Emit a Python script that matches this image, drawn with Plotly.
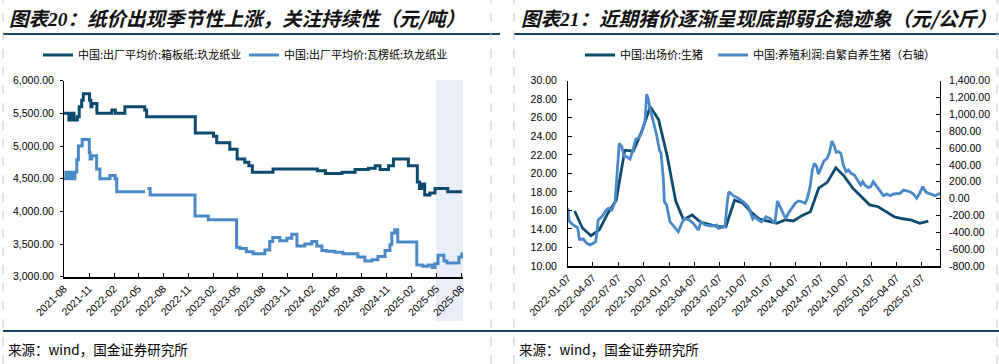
import plotly.graph_objects as go
import pandas as pd

# ---------------- Left chart data (元/吨) ----------------
box_dates = ["2021-08-01", "2021-08-19", "2021-08-29", "2021-09-07", "2021-09-19", "2021-09-26",
             "2021-10-05", "2021-10-11", "2021-11-03", "2021-11-08", "2021-11-12", "2021-11-30",
             "2022-01-24", "2022-02-06", "2022-03-13", "2022-05-25", "2022-06-01", "2022-11-27",
             "2023-02-02", "2023-02-14", "2023-04-03", "2023-04-30", "2023-05-28", "2023-06-12",
             "2023-06-25", "2023-09-09", "2024-02-19", "2024-03-20", "2024-05-20", "2024-07-07",
             "2024-08-25", "2024-09-19", "2024-10-07", "2024-11-07", "2024-11-25", "2025-01-19",
             "2025-02-21", "2025-03-01", "2025-03-10", "2025-03-20", "2025-04-08", "2025-04-27",
             "2025-06-13", "2025-08-04"]
box_price = [5500, 5400, 5500, 5400, 5450, 5600,
             5700, 5800, 5700, 5600, 5650, 5500,
             5550, 5500, 5600, 5550, 5450, 5200,
             5150, 5050, 4950, 4800, 4750, 4700,
             4600, 4650, 4620, 4580, 4600, 4640,
             4660, 4700, 4640, 4700, 4800, 4700,
             4450, 4350, 4420, 4250, 4280, 4350,
             4300, 4300]

corr_dates = ["2021-08-01", "2021-08-08", "2021-08-17", "2021-08-25", "2021-09-03", "2021-09-10",
              "2021-09-17", "2021-09-23", "2021-10-07", "2021-11-02", "2021-11-05", "2021-11-11",
              "2021-11-29", "2021-12-11", "2022-01-17", "2022-02-05", "2022-02-11", "2022-05-26",
              "2022-05-28",
              "2022-06-04", "2022-06-14", "2022-11-26", "2023-01-14", "2023-04-28", "2023-05-10",
              "2023-06-03", "2023-06-28", "2023-08-10", "2023-08-28", "2023-09-08", "2023-10-04",
              "2023-10-30", "2023-11-17", "2023-12-06", "2024-01-04", "2024-01-30", "2024-02-17",
              "2024-03-07", "2024-03-25", "2024-04-24", "2024-05-23", "2024-07-17", "2024-08-12",
              "2024-09-07", "2024-09-29", "2024-10-25", "2024-11-12", "2024-11-19", "2024-11-30",
              "2024-12-11", "2025-02-16", "2025-02-19", "2025-03-13", "2025-04-01", "2025-04-16",
              "2025-04-27", "2025-05-08", "2025-05-22", "2025-05-30", "2025-06-10", "2025-07-17",
              "2025-07-24", "2025-08-04"]
corr_price = [4500, 4600, 4500, 4600, 4500, 4600,
              4790, 5000, 5100, 4900, 4800, 4850,
              4650, 4500, 4550, 4500, 4300, 4300,
              None,
              4350, 4250, 3930, 3870, 3450, 3430,
              3380, 3350, 3410, 3540, 3600, 3550,
              3590, 3650, 3470, 3500, 3540, 3470,
              3400, 3390, 3375, 3350, 3300, 3240,
              3260, 3310, 3400, 3490, 3670, 3720,
              3530, 3530, 3180, 3160, 3180, 3140,
              3200, 3330, 3330, 3240, 3210, 3210,
              3300, 3370]

left_xtick_vals = ["2021-08-01", "2021-11-01", "2022-02-01", "2022-05-01", "2022-08-01", "2022-11-01",
                   "2023-02-01", "2023-05-01", "2023-08-01", "2023-11-01", "2024-02-01", "2024-05-01",
                   "2024-08-01", "2024-11-01", "2025-02-01", "2025-05-01", "2025-08-01"]
left_xtick_text = ["2021-08", "2021-11", "2022-02", "2022-05", "2022-08", "2022-11",
                   "2023-02", "2023-05", "2023-08", "2023-11", "2024-02", "2024-05",
                   "2024-08", "2024-11", "2025-02", "2025-05", "2025-08"]
left_ytick_vals = [3000, 3500, 4000, 4500, 5000, 5500, 6000]
left_ytick_text = ["3,000.00", "3,500.00", "4,000.00", "4,500.00", "5,000.00", "5,500.00", "6,000.00"]

# ---------------- Right chart data ----------------
hog_price_dates = pd.date_range("2022-01-31", periods=43, freq="ME")
hog_price = [15.94, 14.1, 13.27, 13.9, 15.7, 17.1, 22.5, 22.4, 24.5, 27.2, 25.8, 21.9,
             17.0, 15.0, 15.5, 14.75, 14.5, 14.25, 14.24, 17.1, 16.8, 15.8, 15.05, 14.79,
             14.6, 14.97, 14.86, 15.43, 15.86, 18.4, 19.03, 20.6, 19.7, 18.4, 17.5, 16.6,
             16.4, 15.9, 15.3, 15.1, 14.95, 14.6, 14.85]

profit_dates = ["2022-01-07", "2022-01-11", "2022-01-26", "2022-02-11", "2022-02-17", "2022-03-03",
                "2022-03-16", "2022-03-27", "2022-04-08", "2022-04-17", "2022-04-21", "2022-04-26",
                "2022-05-09", "2022-05-21", "2022-06-02", "2022-06-14", "2022-06-26", "2022-07-04",
                "2022-07-11", "2022-07-20", "2022-07-29", "2022-08-07", "2022-08-19", "2022-08-31",
                "2022-09-08", "2022-09-18", "2022-09-30", "2022-10-12", "2022-10-18", "2022-10-24",
                "2022-10-30", "2022-11-11", "2022-11-23", "2022-12-03", "2022-12-09", "2022-12-17",
                "2022-12-21", "2022-12-29", "2023-01-10", "2023-01-28", "2023-02-09", "2023-02-22",
                "2023-03-03", "2023-03-20", "2023-04-04", "2023-04-23", "2023-05-02", "2023-05-17",
                "2023-06-10", "2023-06-28", "2023-07-04", "2023-07-28", "2023-08-05", "2023-08-11",
                "2023-08-27", "2023-09-14", "2023-10-02", "2023-10-20", "2023-11-01", "2023-11-05",
                "2023-11-13", "2023-11-25", "2023-12-07", "2023-12-23", "2024-01-06", "2024-01-16",
                "2024-01-24", "2024-02-02", "2024-02-14", "2024-02-23", "2024-03-03", "2024-03-12",
                "2024-03-25", "2024-04-06", "2024-04-18", "2024-04-30", "2024-05-12", "2024-05-20",
                "2024-05-30", "2024-06-07", "2024-06-14", "2024-06-23", "2024-06-29", "2024-07-09",
                "2024-07-19", "2024-07-31", "2024-08-08", "2024-08-17", "2024-08-24", "2024-09-01",
                "2024-09-09", "2024-09-18", "2024-09-27", "2024-10-07", "2024-10-15", "2024-10-25",
                "2024-11-06", "2024-11-17", "2024-11-29", "2024-12-06", "2024-12-14", "2024-12-26",
                "2025-01-04", "2025-01-13", "2025-01-26", "2025-02-07", "2025-02-19", "2025-03-03",
                "2025-03-15", "2025-03-27", "2025-04-08", "2025-04-20", "2025-05-02", "2025-05-14",
                "2025-05-26", "2025-06-07", "2025-06-19", "2025-06-28", "2025-07-11", "2025-07-23",
                "2025-08-06", "2025-08-24", "2025-09-11"]
profit = [-115, -266, -313, -345, -483, -480,
          -531, -551, -531, -511, -412, -254,
          -215, -155, -115, -135, -37, 320,
          657, 617, 498, 498, 470, 597,
          704, 716, 795, 913, 1240, 1183,
          1072, 913, 755, 577, 538, 241,
          -37, -76, -274, -345, -393, -293,
          -234, -254, -293, -373, -274, -313,
          -325, -313, -353, -333, -37, 82,
          35, 4, -37, -96, -215, -242,
          -215, -254, -274, -215, -234, -274,
          -293, -28, -115, -175, -242, -175,
          -115, -56, -28, -37, -56, 4,
          142, 340, 419, 379, 289, 379,
          447, 479, 550, 684, 637, 550,
          558, 538, 399, 320, 340, 301,
          281, 221, 162, 201, 162, 130,
          142, 201, 142, 91, 35, 55,
          35, 55, 63, 63, 102, 91,
          82, 55, 4, 55, 142, 75,
          55, 35, 63]

right_xtick_vals = ["2022-01-07", "2022-04-07", "2022-07-07", "2022-10-07", "2023-01-07", "2023-04-07",
                    "2023-07-07", "2023-10-07", "2024-01-07", "2024-04-07", "2024-07-07", "2024-10-07",
                    "2025-01-07", "2025-04-07", "2025-07-07"]
right_ytick_vals = [10, 12, 14, 16, 18, 20, 22, 24, 26, 28, 30]
right_ytick_text = ["10.00", "12.00", "14.00", "16.00", "18.00", "20.00", "22.00", "24.00", "26.00", "28.00", "30.00"]
right_y2tick_vals = [-800, -600, -400, -200, 0, 200, 400, 600, 800, 1000, 1200, 1400]
right_y2tick_text = ["-800.00", "-600.00", "-400.00", "-200.00", "0.00", "200.00", "400.00",
                     "600.00", "800.00", "1,000.00", "1,200.00", "1,400.00"]

# ---------------- styling ----------------
W, H = 999, 364
DARK = "#0C4A6E"
LIGHT = "#4A89C8"
NAVY = "#1A4263"
CJK = "Noto Sans CJK SC"
NUM = "Liberation Sans"


def px(x):
    return x / W


def py(y):
    return 1 - y / H


fig = go.Figure()
fig.add_trace(go.Scatter(x=box_dates, y=box_price, mode="lines", line=dict(color=DARK, width=3, shape="hv"),
                         name="中国:出厂平均价:箱板纸:玖龙纸业", xaxis="x", yaxis="y", legend="legend",
                         connectgaps=False))
fig.add_trace(go.Scatter(x=corr_dates, y=corr_price, mode="lines", line=dict(color=LIGHT, width=3, shape="hv"),
                         name="中国:出厂平均价:瓦楞纸:玖龙纸业", xaxis="x", yaxis="y", legend="legend2",
                         connectgaps=False))
fig.add_trace(go.Scatter(x=hog_price_dates, y=hog_price, mode="lines", line=dict(color=DARK, width=2.8),
                         name="中国:出场价:生猪", xaxis="x2", yaxis="y2", legend="legend3"))
fig.add_trace(go.Scatter(x=profit_dates, y=profit, mode="lines", line=dict(color=LIGHT, width=2.8),
                         name="中国:养殖利润:自繁自养生猪（右轴）", xaxis="x2", yaxis="y3", legend="legend4"))

tickfont = dict(family=NUM, size=10.5, color="#000000")
legfont = dict(family=CJK, size=11, color="#000000")


def leg(x, y):
    return dict(x=px(x), y=py(y), xanchor="left", yanchor="middle", orientation="h",
                font=legfont, bgcolor="rgba(0,0,0,0)", borderwidth=0)


fig.update_layout(
    width=W, height=H, margin=dict(l=0, r=0, t=0, b=0, autoexpand=False),
    paper_bgcolor="white", plot_bgcolor="white",
    showlegend=True,
    legend=leg(38, 55), legend2=leg(244, 55), legend3=leg(580, 55), legend4=leg(713, 55),
    xaxis=dict(domain=[px(64), px(463)], anchor="y", type="date", range=["2021-08-01", "2025-08-08"],
               tickvals=left_xtick_vals, ticktext=left_xtick_text, tickangle=-45, tickfont=tickfont,
               ticks="inside", ticklen=4, tickcolor="#000", showline=True, linecolor="#000", linewidth=1.5,
               showgrid=False, zeroline=False, automargin=False),
    yaxis=dict(domain=[py(276.7), py(80.7)], anchor="x", range=[3000, 6000],
               tickvals=left_ytick_vals, ticktext=left_ytick_text, tickfont=tickfont,
               ticks="outside", ticklen=3, tickcolor="#000", showline=True, linecolor="#000", linewidth=1,
               showgrid=False, zeroline=False, ticklabelstandoff=4, automargin=False),
    xaxis2=dict(domain=[px(568), px(940)], anchor="y2", type="date", range=["2022-01-07", "2025-09-11"],
                tickvals=right_xtick_vals, ticktext=right_xtick_vals, tickangle=-45, tickfont=tickfont,
                ticks="inside", ticklen=4, tickcolor="#000", showline=True, linecolor="#000", linewidth=1.5,
                showgrid=False, zeroline=False, automargin=False),
    yaxis2=dict(domain=[py(266), py(80.7)], anchor="x2", range=[10, 30],
                tickvals=right_ytick_vals, ticktext=right_ytick_text, tickfont=tickfont,
                ticks="inside", ticklen=4, tickcolor="#000", showline=True, linecolor="#000", linewidth=1,
                showgrid=False, zeroline=False, ticklabelstandoff=8, automargin=False),
    yaxis3=dict(overlaying="y2", side="right", anchor="x2", range=[-800, 1400],
                tickvals=right_y2tick_vals, ticktext=right_y2tick_text, tickfont=tickfont,
                ticks="inside", ticklen=4, tickcolor="#000", showline=True, linecolor="#000", linewidth=1,
                showgrid=False, zeroline=False, ticklabelstandoff=6, automargin=False),
)

shapes = []
# highlight band
shapes.append(dict(type="rect", xref="x", yref="paper", x0="2025-05-01", x1="2025-08-08",
                   y0=py(321), y1=py(80), fillcolor="#E9EEF8", line=dict(width=0), layer="below"))
# title underlines and bottom lines
shapes.append(dict(type="line", xref="paper", yref="paper", x0=px(3), x1=px(500), y0=py(34), y1=py(34),
                   line=dict(color=NAVY, width=2)))
shapes.append(dict(type="line", xref="paper", yref="paper", x0=px(514), x1=px(999), y0=py(34), y1=py(34),
                   line=dict(color=NAVY, width=2)))
shapes.append(dict(type="line", xref="paper", yref="paper", x0=px(3), x1=px(999), y0=py(331), y1=py(331),
                   line=dict(color=NAVY, width=2)))
# dashed separators
for xv in [3, 491, 514, 997]:
    shapes.append(dict(type="line", xref="paper", yref="paper", x0=px(xv), x1=px(xv), y0=0, y1=1,
                       line=dict(color="#C8C8C8", width=1, dash="dash")))
fig.update_layout(shapes=shapes)

title_font = dict(family=CJK, size=19.5, color="#111111")
src_font = dict(family=CJK, size=13.5, color="#000000")
annotations = [
    dict(x=px(7), y=py(17), xref="paper", yref="paper", xanchor="left", yanchor="middle", showarrow=False,
         text="<b><i>图表<span style='font-family:Liberation Serif'>20</span>：纸价出现季节性上涨，关注持续性（元/吨）</i></b>",
         font=title_font),
    dict(x=px(519), y=py(17), xref="paper", yref="paper", xanchor="left", yanchor="middle", showarrow=False,
         text="<b><i>图表<span style='font-family:Liberation Serif'>21</span>：近期猪价逐渐呈现底部弱企稳迹象（元/公斤）</i></b>",
         font=title_font),
    dict(x=px(6), y=py(349), xref="paper", yref="paper", xanchor="left", yanchor="middle", showarrow=False,
         text="来源：wind，国金证券研究所", font=src_font),
    dict(x=px(517), y=py(349), xref="paper", yref="paper", xanchor="left", yanchor="middle", showarrow=False,
         text="来源：wind，国金证券研究所", font=src_font),
]
fig.update_layout(annotations=annotations)

fig.write_html("out.html", config={"displayModeBar": False},
               post_script="document.body.style.margin='0px';document.body.style.overflow='hidden';")
